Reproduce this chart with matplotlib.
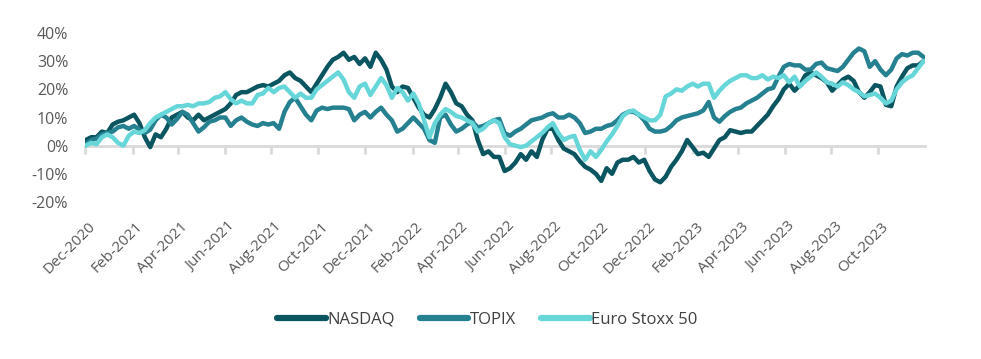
import matplotlib
matplotlib.use("Agg")
import matplotlib.pyplot as plt
import matplotlib.transforms as mtransforms
from matplotlib.lines import Line2D
import pandas as pd

plt.rcParams['font.family'] = ['Open Sans', 'DejaVu Sans']

# weekly readings (% cumulative return), Dec-2020 .. Nov-2023
dates = pd.date_range("2020-12-02", periods=157, freq="7D")

nasdaq = [2, 3, 3, 5, 4.5, 7.5, 8.5, 9, 10, 11,
          8, 3, -0.5, 4, 3, 6, 10, 11, 12, 10,
          9, 11, 9, 10, 11, 12, 13, 15, 18, 19,
          19, 20, 21, 21.5, 21, 22, 23, 25, 26, 24,
          23, 21, 19, 22, 25, 28, 30.5, 31.5, 33, 30.5,
          31.5, 29, 31, 28, 33, 30.5, 27, 21, 19, 21,
          20.5, 17, 13.5, 11, 10, 13, 17, 22, 19, 15,
          14, 11, 9, 2, -3, -2, -4, -4, -9, -8,
          -6, -3, -5, -2, -4, 2, 6, 6, 2, -1,
          -2, -3, -5.5, -7.5, -8.5, -10, -12.5, -8, -10, -6,
          -5, -5, -4, -6, -5, -9, -12, -13, -11, -7.5,
          -5, -2, 2, -0.5, -3, -2.5, -4, -1, 2, 3,
          5.5, 5, 4.5, 5, 5, 7, 9, 11, 14, 16.5,
          20, 22, 19.5, 21.5, 25, 26, 25, 24, 22.5, 19.5,
          21.5, 23.5, 24.5, 23, 19, 17, 19, 21.5, 21, 14.5,
          14, 21, 24.5, 27.5, 28.5, 28.5, 30]

topix = [0.5, 2, 2.5, 4, 4.5, 5, 6.5, 7, 6, 7,
         5.7, 4.5, 5.7, 9, 11, 10, 7.5, 9.5, 12, 11,
         8, 5, 6.5, 8.5, 9, 10, 10, 7, 9, 10,
         8.5, 7.5, 7, 8, 7.5, 8, 6, 12, 15.5, 17,
         14, 11, 9, 12.5, 13.5, 13, 13.5, 13.5, 13.5, 13,
         9, 11, 12, 10, 12, 13.5, 11, 9, 5, 6,
         8, 10, 8, 6, 2, 1, 10, 11, 7.5, 5,
         6, 7.5, 8.5, 6.5, 7, 8, 9, 9.5, 4.5, 3.5,
         5, 6, 7.5, 9, 9.5, 10, 11, 11.5, 10, 10,
         11, 10, 8, 4.5, 5, 6, 6, 7, 7.5, 9,
         11, 12, 12, 11, 9, 6, 5, 5, 5.5, 7,
         9, 10, 10.5, 11, 11.5, 12.5, 15.5, 10, 8.5, 10.5,
         12, 13, 13.5, 15, 16, 17, 18.5, 20, 20.5, 24.5,
         28, 29, 28.5, 28.5, 27, 27, 29, 29.5, 27.5, 27,
         26.5, 28, 30.5, 33, 34.5, 33.5, 28, 30, 27, 25,
         27, 31, 32.5, 32, 33, 33, 31.5]

eurostoxx = [0, 1, 0.5, 3, 4, 3, 1, 0, 3.5, 5,
             4.5, 5.5, 8, 10, 11, 12, 13, 14, 14, 14.5,
             14, 15, 15, 15.5, 17, 17.5, 19, 16.5, 15, 16,
             15, 15, 18, 18.5, 20.5, 19, 20.5, 21, 19, 17,
             18.5, 17, 17, 20, 21.5, 23, 24.5, 26, 23.5, 19,
             17, 21, 22, 18, 21, 24, 21.5, 17, 20.5, 19,
             16, 18.5, 15, 9, 3, 8, 11, 13, 12, 10.5,
             10, 9, 8, 5, 6, 8, 9, 8, 3, 0.5,
             0, -0.5, 0, 1.5, 3, 4.5, 6.5, 8, 4.5, 2,
             3, 3.5, -1.5, -5, -2, -4, -1.5, 1.5, 4, 7,
             10.5, 12, 12.5, 11, 10, 9, 9, 11, 17.5, 18.5,
             20, 19.5, 21, 22, 21, 22, 22, 17, 19.5, 21.5,
             23, 24, 25, 25, 24, 24, 25, 23.5, 24.5, 24,
             25, 22.5, 24.5, 21, 23, 24.5, 26, 24.5, 22.5, 22,
             21, 22.5, 21.5, 20, 19, 17.5, 18, 18.5, 17, 15,
             16, 20, 22.5, 24, 25, 27.5, 30]

names = ["NASDAQ", "TOPIX", "Euro Stoxx 50"]
colors = ["#0a5560", "#25808f", "#66d6d9"]
tick_dates = pd.date_range("2020-12-01", "2023-10-01", freq="2MS")
yticks = [-20, -10, 0, 10, 20, 30, 40]

fig = plt.figure(figsize=(9.81, 3.59), dpi=100)
ax = fig.add_axes([85 / 981, 1 - 202 / 359, 840 / 981, 169 / 359])

for i, (vals, c) in enumerate(zip([nasdaq, topix, eurostoxx], colors)):
    ax.plot(dates, vals, color=c, lw=3.2, solid_joinstyle="round",
            solid_capstyle="round", zorder=3 + i)

ax.set_xlim(pd.Timestamp("2020-12-01"), pd.Timestamp("2023-12-01"))
ax.set_ylim(-20, 40)

for s in ["top", "right", "left"]:
    ax.spines[s].set_visible(False)
ax.spines["bottom"].set_position(("data", 0))
ax.spines["bottom"].set_color("#d9d9d9")
ax.spines["bottom"].set_linewidth(2)
ax.spines["bottom"].set_zorder(1)

ax.set_yticks(yticks)
ax.set_yticklabels([f"{v}%" for v in yticks])
ax.tick_params(axis="y", length=0, pad=12, labelsize=11.5, labelcolor="#595959")

ax.set_xticks(tick_dates)
ax.set_xticklabels([d.strftime("%b-%Y") for d in tick_dates], rotation=45,
                   ha="right", va="top", rotation_mode="anchor")
ax.tick_params(axis="x", direction="out", length=6, width=2, color="#d9d9d9",
               pad=47, labelsize=11, labelcolor="#595959")
shift = mtransforms.ScaledTranslation(3 / 100, 0, fig.dpi_scale_trans)
for lbl in ax.get_xticklabels():
    lbl.set_transform(lbl.get_transform() + shift)

handles = [Line2D([], [], color=c, lw=4.5, solid_capstyle="round") for c in colors]
fig.legend(handles, names, loc="center", bbox_to_anchor=(0.497, 1 - 320 / 359),
           ncol=3, frameon=False, fontsize=12, handlelength=2.9,
           handletextpad=0.1, columnspacing=1.5, labelcolor="#404040")

fig.savefig("out.png", dpi=100)
